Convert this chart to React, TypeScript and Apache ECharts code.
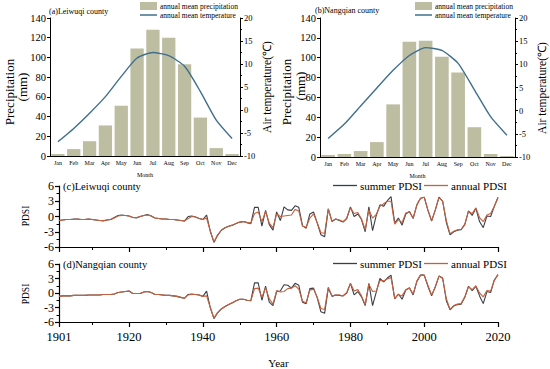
import React, { useEffect, useRef } from "react";
import * as echarts from "echarts";

const FONT = '"Liberation Serif", "Times New Roman", serif';

const months = ["Jan", "Feb", "Mar", "Apr", "May", "Jun", "Jul", "Aug", "Sep", "Oct", "Nov", "Dec"];

const precipA = [2, 7, 15, 31, 51, 109, 128, 120, 93, 39, 8, 2];
const tempA = [-6.9, -4.0, -0.7, 2.9, 7.3, 11.3, 12.5, 11.8, 9.5, 4.0, -2.2, -6.2];
const precipB = [2, 3, 6, 15, 53, 116, 117, 101, 85, 30, 3, 1];
const tempB = [-6.0, -2.9, 1.0, 4.9, 8.7, 11.9, 13.6, 13.0, 10.2, 4.5, -1.3, -5.3];

const startYear = 1901;

const summerC = [
  -0.8, -0.7, -0.6, -0.6, -0.5, -0.5, -0.6, -0.6, -0.5, -0.6,
  -0.7, -0.8, -0.9, -0.7, -0.6, -0.2, 0.2, 0.3, 0.2, 0.1,
  -0.2, -0.3, 0.0, 0.2, 0.4, 0.1, -0.3, -0.4, -0.5, -0.5,
  -0.6, -0.6, -0.7, -0.8, -0.9, 0.0, 0.1, -0.1, -0.4, -0.6,
  0.3, -2.9, -5.1, -3.7, -2.7, -2.2, -1.9, -1.7, -1.4, -1.1,
  -1.0, -1.2, -1.4, 1.8, 1.8, -1.9, 1.2, -1.6, -2.7, 0.9,
  -0.8, 1.9, 1.3, 1.2, 2.1, 1.8, -1.8, -2.3, 0.5, 0.9,
  -1.3, -3.6, -4.0, 1.5, -1.0, -0.5, -0.8, -1.1, -0.4, 1.9,
  0.0, 0.5, -0.6, -3.0, 1.9, -2.8, 0.2, 2.3, 2.0, 3.1,
  3.9, -1.3, -0.3, -1.7, 0.5, 1.0, -0.4, 2.3, 3.6, 3.8,
  1.2, -0.9, 1.3, 3.8, 3.0, -1.2, -3.6, -3.0, -2.7, -2.6,
  -1.6, 1.1, 0.2, 1.6, -1.0, -2.2, 0.1, 0.0, 2.0, 3.8,
];
const annualC = [
  -0.8, -0.7, -0.6, -0.6, -0.6, -0.5, -0.6, -0.6, -0.5, -0.6,
  -0.7, -0.8, -0.8, -0.7, -0.6, -0.3, 0.1, 0.2, 0.2, 0.1,
  -0.2, -0.2, 0.0, 0.2, 0.3, 0.1, -0.3, -0.4, -0.5, -0.5,
  -0.6, -0.6, -0.7, -0.8, -0.9, -0.4, 0.0, -0.1, -0.4, -0.6,
  -0.3, -2.8, -5.0, -3.6, -2.7, -2.2, -1.9, -1.7, -1.4, -1.1,
  -1.0, -1.2, -1.3, 0.6, 0.9, -1.0, 1.0, -1.3, -2.2, 0.5,
  0.0, 0.1, 0.2, 0.3, 1.4, 1.1, -1.9, -2.1, -0.3, 0.5,
  -1.2, -3.2, -3.3, 1.5, -0.9, -0.5, -0.7, -1.0, -0.3, 1.7,
  0.6, 0.8, -0.5, -2.6, 1.3, -0.3, 0.4, 2.0, 2.5, 3.0,
  3.0, -1.5, -0.6, -1.2, 0.7, 0.9, -0.3, 2.2, 3.6, 3.8,
  1.3, -0.8, 1.2, 3.7, 3.0, -0.8, -3.4, -2.9, -2.6, -2.5,
  -1.5, 1.0, 0.6, 1.7, -0.2, -1.0, 0.3, 0.6, 2.0, 3.7,
];
const summerD = [
  -0.7, -0.6, -0.6, -0.6, -0.5, -0.5, -0.5, -0.5, -0.4, -0.4,
  -0.4, -0.4, -0.3, -0.3, -0.3, -0.2, 0.1, 0.2, 0.3, 0.4,
  -0.1, -0.1, -0.1, 0.2, 0.3, 0.1, -0.3, -0.3, -0.4, -0.5,
  -0.5, -0.6, -0.7, -0.9, -1.1, -0.3, -0.2, -0.3, -0.4, -0.7,
  0.4, -3.0, -5.3, -4.1, -3.3, -2.8, -2.4, -2.0, -1.6, -1.3,
  -1.3, -1.5, -1.6, 2.1, 2.1, -1.5, 1.4, -1.9, -2.6, 0.3,
  0.4, 1.7, 1.6, 1.0, 2.0, 1.6, -1.9, -2.2, 0.9, 1.0,
  -1.0, -3.9, -4.2, 1.0, -0.7, -0.4, -0.5, -0.6, 0.0, 2.0,
  -0.4, 0.3, -0.8, -2.6, 2.0, -2.6, 0.2, 3.0, 2.3, 3.1,
  3.7, -1.2, -0.2, -1.3, 0.6, 1.1, -0.4, 2.4, 3.7, 3.7,
  1.4, -0.6, 1.3, 3.5, 3.1, -1.6, -3.5, -2.7, -2.4, -2.3,
  -0.9, 1.4, 0.5, 1.4, -0.6, -2.2, 0.3, 0.1, 2.7, 3.8,
];
const annualD = [
  -0.7, -0.6, -0.6, -0.6, -0.5, -0.5, -0.5, -0.5, -0.4, -0.4,
  -0.4, -0.4, -0.3, -0.3, -0.3, -0.2, 0.1, 0.2, 0.3, 0.4,
  -0.1, -0.1, -0.1, 0.2, 0.3, 0.1, -0.3, -0.3, -0.4, -0.5,
  -0.5, -0.6, -0.7, -0.9, -1.1, -0.4, -0.3, -0.3, -0.4, -0.7,
  -0.6, -3.0, -5.2, -4.0, -3.3, -2.8, -2.4, -2.0, -1.6, -1.3,
  -1.3, -1.5, -1.6, 0.9, 1.0, -0.9, 1.1, -1.2, -2.3, 0.5,
  0.2, 0.3, 0.9, 1.0, 1.5, 0.8, -1.7, -2.0, 0.6, 0.8,
  -0.9, -3.2, -3.4, 1.2, -0.6, -0.4, -0.4, -0.6, 0.1, 2.0,
  0.4, 0.7, -0.6, -2.4, 1.8, 0.3, 0.4, 2.6, 2.5, 2.9,
  3.2, -1.1, -0.3, -0.6, 0.7, 1.0, -0.2, 2.4, 3.7, 3.7,
  1.6, -0.4, 1.2, 3.5, 3.0, -1.2, -3.4, -2.6, -2.3, -2.2,
  -0.8, 1.3, 0.7, 1.5, 0.0, -0.8, 0.5, 0.4, 2.6, 3.8,
];

const yearLabels = [1901, 1920, 1940, 1960, 1980, 2000, 2020];
const yearMinorTicks = [1910, 1930, 1950, 1970, 1990, 2010];

const BAR_COLOR = "#bdbda2";
const TEMP_COLOR = "#3f6f8c";
const SUMMER_COLOR = "#3a3e48";
const ANNUAL_COLOR = "#c4623f";

function pairs(values: number[]) {
  return values.map((v, i) => [startYear + i, v]);
}

export default function App() {
  const ref = useRef<HTMLDivElement>(null);

  useEffect(() => {
    if (!ref.current) return;
    const chart = echarts.init(ref.current, null, { renderer: "svg" });

    const axisLine = { show: true, onZero: false, lineStyle: { color: "#000", width: 1 } };

    const monthAxis = (gridIndex: number) => ({
      type: "category",
      gridIndex,
      data: months,
      axisLine,
      axisTick: { show: false },
      axisLabel: { fontSize: 6, fontFamily: FONT, color: "#000", margin: 4 },
      name: "Month",
      nameLocation: "middle",
      nameGap: 16,
      nameTextStyle: { fontSize: 6, fontFamily: FONT, color: "#000" },
    });

    const precipAxis = (gridIndex: number) => ({
      type: "value",
      gridIndex,
      position: "left",
      min: 0,
      max: 140,
      interval: 20,
      axisLine,
      axisTick: { show: true, length: 3, lineStyle: { color: "#000" } },
      axisLabel: { fontSize: 10.5, fontFamily: FONT, color: "#000", margin: 4 },
      splitLine: { show: false },
    });

    const tempAxis = (gridIndex: number) => ({
      type: "value",
      gridIndex,
      position: "right",
      min: -10,
      max: 20,
      interval: 5,
      axisLine,
      axisTick: { show: true, length: 3, lineStyle: { color: "#000" } },
      minorTick: { show: true, splitNumber: 2, length: 2, lineStyle: { color: "#000" } },
      axisLabel: { fontSize: 8.5, fontFamily: FONT, color: "#000", margin: 4 },
      splitLine: { show: false },
    });

    const yearAxis = (gridIndex: number, labels: boolean) => ({
      type: "value",
      gridIndex,
      min: 1901,
      max: 2020,
      position: "bottom",
      axisLine: { show: true, onZero: false, lineStyle: { color: "#000", width: 1.2 } },
      axisTick: { show: true, length: 5, customValues: yearLabels, lineStyle: { color: "#000", width: 1.2 } },
      axisLabel: {
        show: labels,
        customValues: yearLabels,
        formatter: (v: number) => String(v),
        fontSize: 12.5,
        fontFamily: FONT,
        color: "#000",
        margin: 8,
      },
      splitLine: { show: false },
      name: labels ? "Year" : "",
      nameLocation: "middle",
      nameGap: 35,
      nameTextStyle: { fontSize: 11, fontFamily: FONT, color: "#000" },
    });

    const yearMinorAxis = (gridIndex: number) => ({
      type: "value",
      gridIndex,
      min: 1901,
      max: 2020,
      position: "bottom",
      axisLine: { show: false, onZero: false },
      axisTick: { show: true, length: 3, customValues: yearMinorTicks, lineStyle: { color: "#000", width: 1 } },
      axisLabel: { show: false },
      splitLine: { show: false },
    });

    const pdsiAxis = (gridIndex: number) => ({
      type: "value",
      gridIndex,
      min: -6,
      max: 6,
      interval: 3,
      axisLine: { show: true, onZero: false, lineStyle: { color: "#000", width: 1.2 } },
      axisTick: { show: true, length: 4, lineStyle: { color: "#000", width: 1.2 } },
      minorTick: { show: true, splitNumber: 2, length: 2.5, lineStyle: { color: "#000" } },
      axisLabel: { fontSize: 12, fontFamily: FONT, color: "#000", margin: 5 },
      splitLine: { show: false },
    });

    const txt = (text: string, x: number, y: number, size: number, rotate = false, align = "left") => ({
      type: "text",
      x,
      y,
      rotation: rotate ? Math.PI / 2 : 0,
      style: {
        text,
        fontSize: size,
        fontFamily: FONT,
        fill: "#000",
        align: rotate ? "center" : align,
        verticalAlign: "middle",
      },
    });

    const pdsiLine = (name: string, color: string, data: number[], xi: number, yi: number, z: number) => ({
      type: "line",
      name,
      xAxisIndex: xi,
      yAxisIndex: yi,
      data: pairs(data),
      symbol: "none",
      z,
      lineStyle: { color, width: 1.1 },
      itemStyle: { color },
    });

    const topLegend = (left: number) => ({
      left,
      top: 2,
      orient: "vertical",
      itemWidth: 17,
      itemHeight: 8,
      itemGap: 1,
      padding: 0,
      selectedMode: false,
      data: [
        { name: "annual mean precipitation", icon: "rect" },
        { name: "annual mean temperature", icon: "path://M0,0h17v1.5h-17z" },
      ],
      textStyle: { fontSize: 7.5, fontFamily: FONT, color: "#000", padding: [0, 0, 0, -2] },
    });

    const pdsiLegend = (top: number) => ({
      left: 333,
      top,
      orient: "horizontal",
      itemWidth: 24,
      itemHeight: 8,
      itemGap: 2,
      padding: 0,
      selectedMode: false,
      data: [
        { name: "summer PDSI", icon: "path://M0,0h24v1.3h-24z" },
        { name: "annual PDSI", icon: "path://M0,0h24v1.3h-24z" },
      ],
      textStyle: { fontSize: 11, fontFamily: FONT, color: "#000", padding: [0, 0, 0, -2] },
    });

    chart.setOption({
      animation: false,
      backgroundColor: "#fff",
      grid: [
        { left: 50, top: 18, width: 190, height: 138 },
        { left: 320, top: 18, width: 195, height: 139 },
        { left: 59, top: 186, width: 439, height: 61 },
        { left: 59, top: 264, width: 439, height: 61 },
      ],
      legend: [topLegend(140), topLegend(415), pdsiLegend(180), pdsiLegend(258)],
      xAxis: [
        monthAxis(0),
        monthAxis(1),
        yearAxis(2, false),
        yearMinorAxis(2),
        yearAxis(3, true),
        yearMinorAxis(3),
      ],
      yAxis: [precipAxis(0), tempAxis(0), precipAxis(1), tempAxis(1), pdsiAxis(2), pdsiAxis(3)],
      series: [
        {
          type: "bar",
          name: "annual mean precipitation",
          xAxisIndex: 0,
          yAxisIndex: 0,
          data: precipA,
          barCategoryGap: "16%",
          itemStyle: { color: BAR_COLOR },
        },
        {
          type: "line",
          name: "annual mean temperature",
          xAxisIndex: 0,
          yAxisIndex: 1,
          data: tempA,
          symbol: "none",
          smooth: 0.2,
          lineStyle: { color: TEMP_COLOR, width: 1.4 },
          itemStyle: { color: TEMP_COLOR },
        },
        {
          type: "bar",
          name: "annual mean precipitation",
          xAxisIndex: 1,
          yAxisIndex: 2,
          data: precipB,
          barCategoryGap: "16%",
          itemStyle: { color: BAR_COLOR },
        },
        {
          type: "line",
          name: "annual mean temperature",
          xAxisIndex: 1,
          yAxisIndex: 3,
          data: tempB,
          symbol: "none",
          smooth: 0.2,
          lineStyle: { color: TEMP_COLOR, width: 1.4 },
          itemStyle: { color: TEMP_COLOR },
        },
        pdsiLine("summer PDSI", SUMMER_COLOR, summerC, 2, 4, 2),
        pdsiLine("annual PDSI", ANNUAL_COLOR, annualC, 2, 4, 3),
        pdsiLine("summer PDSI", SUMMER_COLOR, summerD, 4, 5, 2),
        pdsiLine("annual PDSI", ANNUAL_COLOR, annualD, 4, 5, 3),
      ],
      graphic: [
        txt("(a)Leiwuqi county", 49, 11, 8),
        txt("(b)Nangqian county", 315, 10, 8),
        txt("Precipitation", 9, 92, 13, true),
        txt("(mm)", 22, 87, 13, true),
        txt("Air temperature(℃)", 267, 87, 11.5, true),
        txt("Precipitation", 286, 92, 13, true),
        txt("(mm)", 300, 86, 13, true),
        txt("Air temperature(℃)", 542, 88, 11.5, true),
        txt("(c)Leiwuqi county", 63, 186, 10.5),
        txt("(d)Nangqian county", 63, 264, 10.5),
        txt("PDSI", 26, 216, 9.5, true),
        txt("PDSI", 26, 294, 9.5, true),
      ],
    });

    return () => chart.dispose();
  }, []);

  return (
    <div
      ref={ref}
      style={{ position: "absolute", left: 0, top: 0, width: 550, height: 369, background: "#fff" }}
    />
  );
}
